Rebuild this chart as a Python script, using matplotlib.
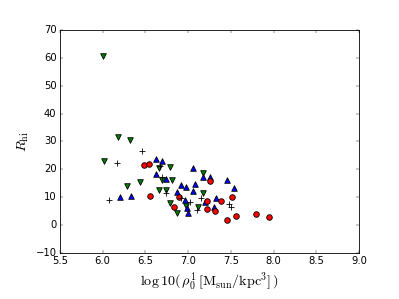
import matplotlib
matplotlib.use("Agg")
import matplotlib.pyplot as plt

plt.style.use("classic")

# red circles
red_x = [6.48, 6.54, 7.26, 6.56, 6.89, 7.22, 7.39, 7.51, 6.83, 7.22, 7.32, 7.45, 7.56, 7.79, 7.95]
red_y = [21.5, 22.0, 15.9, 10.5, 10.0, 8.7, 8.6, 10.2, 6.6, 5.8, 5.1, 1.8, 3.3, 4.1, 2.8]

# blue up triangles
blue_x = [6.62, 6.69, 6.62, 6.74, 7.06, 7.17, 7.26, 7.46, 7.54, 6.92, 6.98, 7.08,
          7.06, 6.20, 6.33, 6.87, 6.96, 7.20, 7.33, 7.30, 6.99, 7.00]
blue_y = [23.8, 23.1, 18.2, 16.4, 20.6, 17.3, 17.3, 16.2, 13.3, 14.2, 13.8, 14.8,
          12.2, 10.2, 10.5, 12.0, 9.0, 8.4, 9.6, 6.4, 6.0, 4.2]

# green down triangles
green_x = [6.01, 6.18, 6.32, 6.02, 6.29, 6.44, 6.66, 6.79, 6.69, 6.81, 6.66, 6.74,
           7.17, 7.17, 6.79, 6.87, 6.98, 7.12]
green_y = [60.5, 31.5, 30.5, 23.0, 14.0, 15.6, 20.6, 21.0, 16.0, 16.2, 12.6, 12.6,
           18.8, 11.4, 7.8, 4.2, 6.9, 6.6]

# black plus
plus_x = [6.46, 6.17, 6.67, 6.69, 6.74, 6.07, 6.92, 7.02, 7.15, 7.10, 7.48, 7.50]
plus_y = [26.7, 22.4, 21.3, 17.4, 11.4, 8.9, 9.6, 8.4, 9.6, 5.4, 7.6, 6.4]

DPI = 60
fig = plt.figure(figsize=(399 / DPI, 299 / DPI), dpi=DPI)
ax = fig.add_axes([0.150, 0.154, 0.750, 0.746])

ax.scatter(green_x, green_y, marker="v", s=45, c="g", edgecolors="k", linewidths=1)
ax.scatter(blue_x, blue_y, marker="^", s=45, c="b", edgecolors="k", linewidths=1)
ax.scatter(red_x, red_y, marker="o", s=45, c="r", edgecolors="k", linewidths=1)
ax.scatter(plus_x, plus_y, marker="+", s=60, c="k", linewidths=1)

ax.set_xlim(5.5, 9.0)
ax.set_ylim(-10, 70)
ax.set_xticks([5.5, 6.0, 6.5, 7.0, 7.5, 8.0, 8.5, 9.0])
ax.set_xlabel(r"$\log10(\,\rho_0^1\,[{\rm M_{sun}/kpc^3}]\,)$", fontsize=17)
ax.set_ylabel(r"$R_{\rm hi}$", fontsize=17)

fig.savefig("out.png", dpi=DPI)
